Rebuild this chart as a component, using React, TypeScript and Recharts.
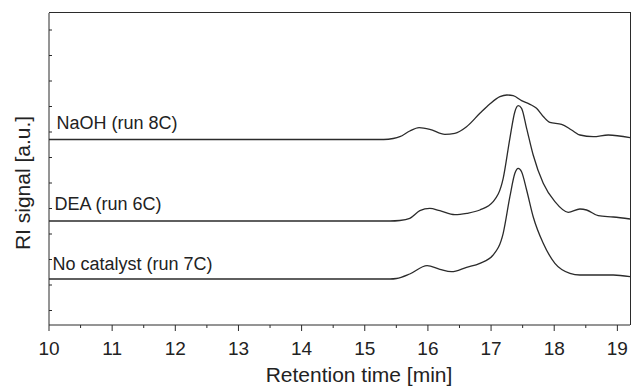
import React from "react";
import {
  Line,
  LineChart,
  ReferenceDot,
  XAxis,
  YAxis,
} from "recharts";

// retention time [min] and RI signal [a.u.]
const naohTime = [
  10, 15.3, 15.45, 15.555, 15.713, 15.861, 16.03, 16.268, 16.426, 16.612, 16.823,
  16.98, 17.14, 17.25, 17.35, 17.483, 17.615, 17.72, 17.83, 17.93, 18.117, 18.275,
  18.407, 18.618, 18.856, 19.2,
];
const naohSignal = [
  185.5, 185.5, 186.5, 188.3, 194, 197.3, 195.7, 190.7, 191.7, 198.3, 211.7,
  221, 228.3, 230, 229.3, 224.3, 220.7, 216.7, 208.3, 202.7, 200.7, 195,
  190, 188.3, 190, 187.3,
];

const deaTime = [
  10, 15.4, 15.555, 15.713, 15.872, 16.03, 16.189, 16.426, 16.617, 16.823, 17.033,
  17.192, 17.298, 17.377, 17.43, 17.483, 17.563, 17.667, 17.826, 18.011, 18.222,
  18.407, 18.513, 18.697, 18.935, 19.2,
];
const deaSignal = [
  104, 104, 104.5, 106.7, 114.3, 116.7, 114.3, 110.3, 111.7, 115, 123.3,
  146.7, 186.7, 213.3, 219.3, 216.7, 196.7, 170, 141.7, 123.3, 112.7,
  116, 115, 109.3, 108, 106,
];

const noCatTime = [
  10, 15.4, 15.502, 15.713, 15.987, 16.189, 16.374, 16.612, 16.823, 17.033, 17.192,
  17.298, 17.377, 17.43, 17.483, 17.563, 17.667, 17.826, 18.011, 18.249, 18.407,
  18.935, 19.2,
];
const noCatSignal = [
  46, 46, 46.5, 51, 59.3, 55.7, 53.3, 57.7, 61.7, 70, 91.7,
  128.3, 151.7, 156.7, 153.3, 135, 108.3, 81.7, 61.7, 51.7, 50,
  50, 48.3,
];

const xTicks = [
  10, 10.5, 11, 11.5, 12, 12.5, 13, 13.5, 14, 14.5, 15, 15.5, 16, 16.5, 17, 17.5,
  18, 18.5, 19,
];
const yTicks = [295, 269.5, 244, 218.5, 193, 167.5, 142, 116.5, 91, 65.5, 40, 14.5];

const seriesLabels = ["NaOH (run 8C)", "DEA (run 6C)", "No catalyst (run 7C)"];

const toRows = (t: number[], v: number[]) => t.map((time, i) => ({ time, signal: v[i] }));

const FONT = "'Liberation Sans', Arial, sans-serif";
const INK = "#2b2b2b";

// plot box in pixels (chart margins + axis sizes below)
const TOP = 13;
const LEFT = 49;
const RIGHT = 630;
const BOTTOM = 325;

const XTick = (props: any) => {
  const { x, y, payload } = props;
  const major = Number.isInteger(payload.value);
  return (
    <g>
      <line x1={x} x2={x} y1={y} y2={y + (major ? 6 : 3)} stroke={INK} />
      {major && (
        <text x={x} y={y + 30} textAnchor="middle" fontSize={19} fontFamily={FONT} fill="#222">
          {payload.value}
        </text>
      )}
    </g>
  );
};

const YTick = (props: any) => {
  const { x, y } = props;
  return <line x1={x} x2={x + 3} y1={y} y2={y} stroke={INK} />;
};

const SeriesLabel = (text: string) => (p: any) => (
  <text x={p.cx} y={p.cy} fontSize={18} fontFamily={FONT} fill="#222">
    {text}
  </text>
);

const App = (): JSX.Element => {
  const lines = [
    { rows: toRows(naohTime, naohSignal), key: "naoh" },
    { rows: toRows(deaTime, deaSignal), key: "dea" },
    { rows: toRows(noCatTime, noCatSignal), key: "nocat" },
  ];
  const labelAt = [
    { t: 10.119, v: 195.7 },
    { t: 10.087, v: 115 },
    { t: 10.055, v: 55 },
  ];
  return (
    <div style={{ position: "absolute", left: 0, top: 0, width: 631, height: 392 }}>
      <LineChart
        width={631}
        height={392}
        margin={{ top: TOP, right: 631 - RIGHT, bottom: 0, left: 0 }}
      >
        <XAxis
          dataKey="time"
          type="number"
          domain={[10, 19.2]}
          ticks={xTicks}
          interval={0}
          height={392 - BOTTOM}
          tickSize={0}
          tickMargin={0}
          tickLine={false}
          tick={XTick}
          axisLine={{ stroke: INK }}
          allowDuplicatedCategory={false}
          label={() => (
            <text x={359} y={382} textAnchor="middle" fontSize={21} fontFamily={FONT} fill="#222">
              Retention time [min]
            </text>
          )}
        />
        <YAxis
          type="number"
          domain={[0, 312]}
          ticks={yTicks}
          interval={0}
          width={LEFT}
          tickSize={0}
          tickMargin={0}
          tickLine={false}
          tick={YTick}
          axisLine={{ stroke: INK }}
          label={() => (
            <text
              x={30}
              y={183}
              transform="rotate(-90 30 183)"
              textAnchor="middle"
              fontSize={21}
              fontFamily={FONT}
              fill="#222"
            >
              RI signal [a.u.]
            </text>
          )}
        />
        {lines.map((l) => (
          <Line
            key={l.key}
            data={l.rows}
            dataKey="signal"
            type="monotone"
            stroke={INK}
            strokeWidth={1.3}
            dot={false}
            activeDot={false}
            isAnimationActive={false}
          />
        ))}
        {seriesLabels.map((text, i) => (
          <ReferenceDot
            key={text}
            x={labelAt[i].t}
            y={labelAt[i].v}
            r={0}
            ifOverflow="visible"
            shape={SeriesLabel(text)}
          />
        ))}
      </LineChart>
      {/* top and right edges of the plot frame */}
      <div
        style={{
          position: "absolute",
          left: LEFT,
          top: TOP - 1,
          width: RIGHT - LEFT + 1,
          height: BOTTOM - TOP + 1,
          borderTop: `1px solid ${INK}`,
          borderRight: `1px solid ${INK}`,
          boxSizing: "border-box",
          pointerEvents: "none",
        }}
      />
    </div>
  );
};

export default App;
